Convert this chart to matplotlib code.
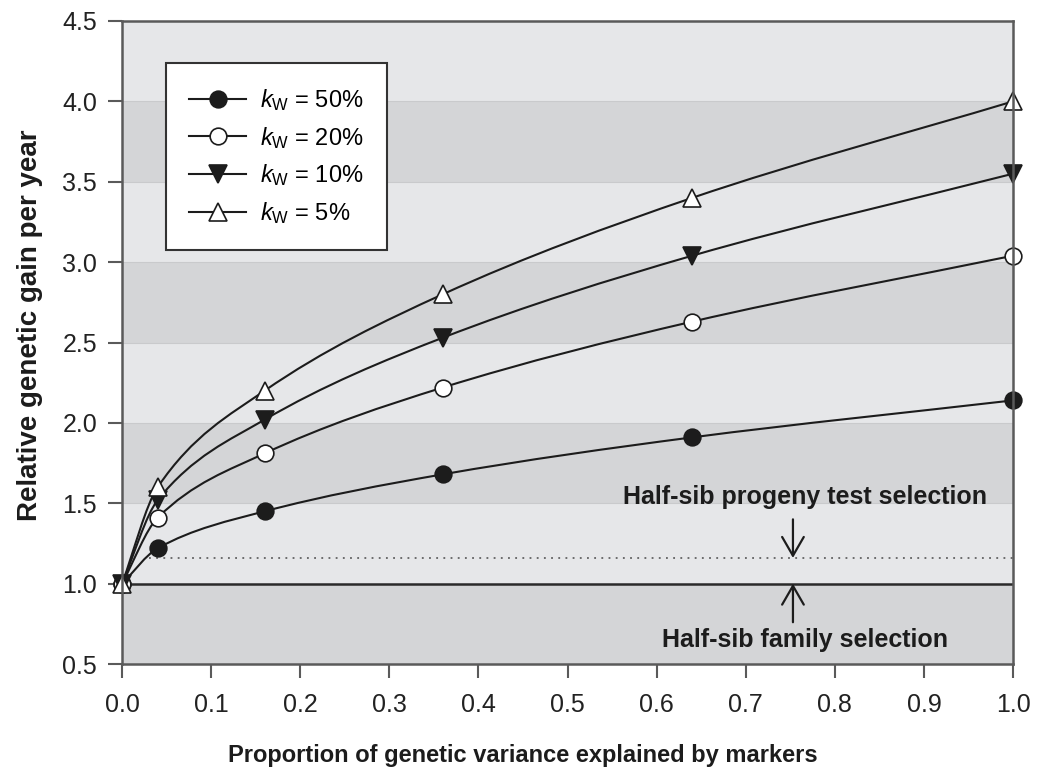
import numpy as np
import matplotlib
matplotlib.use("Agg")
import matplotlib.pyplot as plt
from matplotlib.path import Path
from matplotlib.patches import PathPatch
from matplotlib.lines import Line2D
from matplotlib import font_manager as fm

# ---- data ----
marker_prop = [0.0, 0.04, 0.16, 0.36, 0.64, 1.0]
gain_kw50 = [1.0, 1.22, 1.45, 1.68, 1.91, 2.14]
gain_kw20 = [1.0, 1.41, 1.81, 2.22, 2.63, 3.04]
gain_kw10 = [1.0, 1.52, 2.02, 2.53, 3.04, 3.55]
gain_kw5 = [1.0, 1.60, 2.20, 2.80, 3.40, 4.00]
series_labels = ["50%", "20%", "10%", "5%"]

family_level = 1.0
progeny_level = 1.16
progeny_start = 0.03
arrow_x = 0.753

y_ticks = [0.5, 1.0, 1.5, 2.0, 2.5, 3.0, 3.5, 4.0, 4.5]
x_ticks = [0.0, 0.1, 0.2, 0.3, 0.4, 0.5, 0.6, 0.7, 0.8, 0.9, 1.0]

# ---- fonts ----
names = {f.name for f in fm.fontManager.ttflist}
base = "Liberation Sans" if "Liberation Sans" in names else "DejaVu Sans"
plt.rcParams["font.family"] = [base, "DejaVu Sans"]
plt.rcParams["mathtext.fontset"] = "custom"
plt.rcParams["mathtext.rm"] = base
plt.rcParams["mathtext.it"] = base + ":italic"

ink = "#1c1c1c"
axis_grey = "#5a5a5a"
band_light = "#e6e7e9"
band_dark = "#d4d5d7"


def monotone_path(x, y):
    """Cubic Hermite (Fritsch-Carlson) curve through the points, as a Bezier path."""
    x = np.asarray(x, float)
    y = np.asarray(y, float)
    h = np.diff(x)
    d = np.diff(y) / h
    m = np.zeros_like(y)
    m[0], m[-1] = d[0], d[-1]
    for i in range(1, len(x) - 1):
        if d[i - 1] * d[i] <= 0:
            m[i] = 0.0
        else:
            w1 = 2 * h[i] + h[i - 1]
            w2 = h[i] + 2 * h[i - 1]
            m[i] = (w1 + w2) / (w1 / d[i - 1] + w2 / d[i])
    verts = [(x[0], y[0])]
    codes = [Path.MOVETO]
    for i in range(len(x) - 1):
        verts += [(x[i] + h[i] / 3, y[i] + m[i] * h[i] / 3),
                  (x[i + 1] - h[i] / 3, y[i + 1] - m[i + 1] * h[i] / 3),
                  (x[i + 1], y[i + 1])]
        codes += [Path.CURVE4] * 3
    return Path(verts, codes)


fig = plt.figure(figsize=(10.42, 7.69), dpi=100)
ax = fig.add_axes([0.1171, 0.1365, 0.8551, 0.8362])
ax.set_xlim(0, 1.0)
ax.set_ylim(0.5, 4.5)

# alternating horizontal bands
for i, lo in enumerate(y_ticks[:-1]):
    ax.axhspan(lo, lo + 0.5, color=band_dark if i % 2 == 0 else band_light,
               lw=0, zorder=0)
for yv in y_ticks[1:-1]:
    ax.axhline(yv, color="#c9cacc", lw=0.8, zorder=0.5)

# reference levels
ax.axhline(family_level, color="#2a2a2a", lw=1.8, zorder=2)
ax.plot([progeny_start, 1.0], [progeny_level, progeny_level], color="#4a4a4a",
        lw=1.1, ls=(0, (1.2, 3.5)), zorder=2)

series = [
    (gain_kw50, "o", ink),
    (gain_kw20, "o", "white"),
    (gain_kw10, "v", ink),
    (gain_kw5, "^", "white"),
]
handles = []
for (vals, mk, fc), lab in zip(series, series_labels):
    ax.add_patch(PathPatch(monotone_path(marker_prop, vals), fill=False,
                           edgecolor=ink, lw=1.5, zorder=3))
    ms = 12 if mk == "o" else 13
    ax.plot(marker_prop, vals, ls="none", marker=mk, ms=ms, mfc=fc, mec=ink,
            mew=1.2, zorder=4, clip_on=False)
    handles.append(Line2D([], [], color=ink, lw=1.5, marker=mk, ms=ms,
                          mfc=fc, mec=ink, mew=1.2,
                          label=r"$k_\mathrm{W}$ = " + lab))

# annotations
ax.text(0.767, 1.54, "Half-sib progeny test selection", ha="center",
        va="center", fontsize=18, fontweight="bold", color=ink, zorder=5)
ax.text(0.767, 0.65, "Half-sib family selection", ha="center", va="center",
        fontsize=18, fontweight="bold", color=ink, zorder=5)
arrow_style = "->, head_length=0.45, head_width=0.26"
ax.annotate("", xy=(arrow_x, progeny_level), xytext=(arrow_x, 1.40),
            arrowprops=dict(arrowstyle=arrow_style, color=ink, lw=1.6,
                            mutation_scale=30, shrinkA=0, shrinkB=0), zorder=5)
ax.annotate("", xy=(arrow_x, family_level), xytext=(arrow_x, 0.76),
            arrowprops=dict(arrowstyle=arrow_style, color=ink, lw=1.6,
                            mutation_scale=30, shrinkA=0, shrinkB=0), zorder=5)

# axes styling
for s in ax.spines.values():
    s.set_color(axis_grey)
    s.set_linewidth(1.8)
    s.set_zorder(6)
ax.set_yticks(y_ticks)
ax.set_yticklabels([f"{v:.1f}" for v in y_ticks])
ax.set_xticks(x_ticks)
ax.set_xticklabels([f"{v:.1f}" for v in x_ticks])
ax.tick_params(axis="both", direction="out", length=10, width=1.5,
               color=axis_grey, labelcolor="#222222")
ax.tick_params(axis="y", labelsize=18, pad=8)
ax.tick_params(axis="x", labelsize=18, pad=11)

ax.set_ylabel("Relative genetic gain per year", fontsize=20, fontweight="bold",
              color=ink)
ax.yaxis.set_label_coords(-0.089, 0.527)
ax.set_xlabel("Proportion of genetic variance explained by markers",
              fontsize=17, fontweight="bold", color=ink)
ax.xaxis.set_label_coords(0.45, -0.125)

leg = ax.legend(handles=handles, loc="upper left",
                bbox_to_anchor=(0.049, 0.934), fontsize=17, frameon=True,
                fancybox=False, edgecolor="#333333", framealpha=1.0,
                handlelength=2.4, handletextpad=0.6, labelspacing=0.5,
                borderpad=1.0, borderaxespad=0)
leg.get_frame().set_linewidth(1.5)
leg.set_zorder(7)

fig.savefig("out.png", dpi=100)
